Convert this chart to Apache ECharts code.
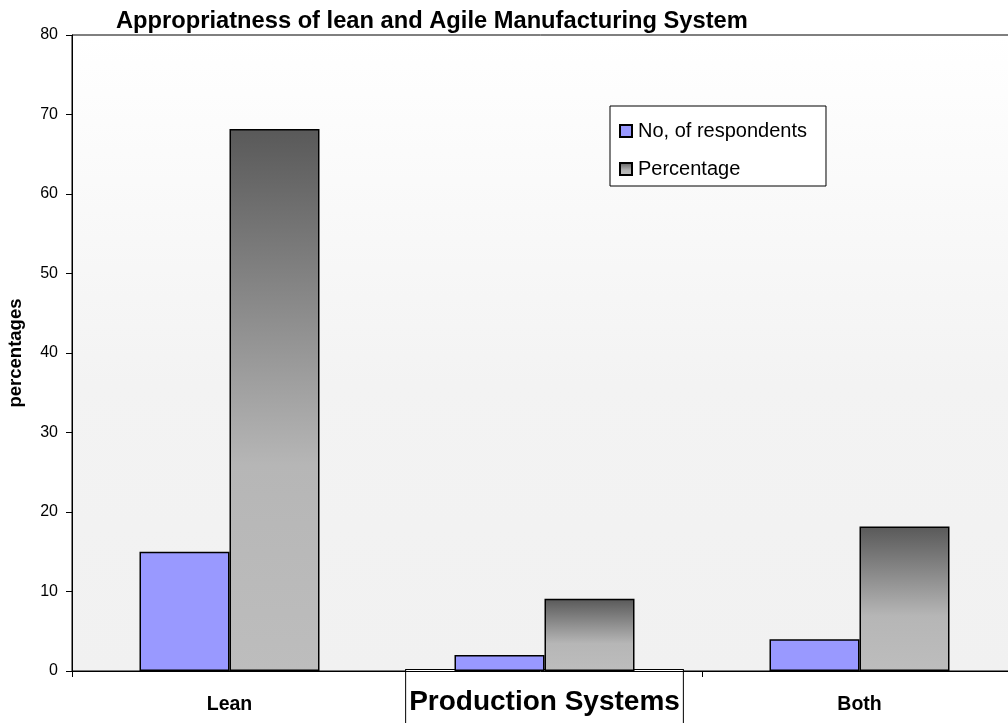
<!DOCTYPE html>
<html>
<head>
<meta charset="utf-8">
<title>Appropriatness of lean and Agile Manufacturing System</title>
<script src="https://cdn.jsdelivr.net/npm/echarts@6/dist/echarts.min.js"></script>
<style>
  html, body { margin: 0; padding: 0; background: #ffffff; }
  #chart { width: 1008px; height: 723px; }
</style>
</head>
<body>
<div id="chart"></div>
<script>
// Survey results: preferred production system
const categories = ['Lean', 'Agile', 'Both'];
const respondents = [15, 2, 4];
const percentages = [68.18, 9.09, 18.18];
const yTicks = { min: 0, max: 80, interval: 10 };

const FONT = '"Liberation Sans", Arial, Helvetica, sans-serif';

const grayFill = {
  type: 'linear', x: 0, y: 0, x2: 0, y2: 1,
  colorStops: [
    { offset: 0, color: '#595959' },
    { offset: 0.62, color: '#b6b6b6' },
    { offset: 1, color: '#bdbdbd' }
  ]
};

const chart = echarts.init(document.getElementById('chart'), null, { renderer: 'canvas' });

chart.setOption({
  animation: false,
  backgroundColor: '#ffffff',
  title: {
    text: 'Appropriatness of lean and Agile Manufacturing System',
    left: 111,
    top: 4,
    textStyle: { fontFamily: FONT, fontSize: 23.7, fontWeight: 'bold', color: '#000' }
  },
  grid: {
    left: 72, top: 35, right: -9, bottom: 52,
    containLabel: false,
    outerBoundsMode: 'none',
    show: true,
    borderColor: '#000',
    borderWidth: 1,
    backgroundColor: {
      type: 'linear', x: 0, y: 0, x2: 0, y2: 1,
      colorStops: [
        { offset: 0, color: '#ffffff' },
        { offset: 0.55, color: '#f3f3f3' },
        { offset: 1, color: '#f1f1f1' }
      ]
    }
  },
  legend: {
    orient: 'vertical',
    left: 610,
    top: 106,
    padding: [15, 19, 7, 9],
    itemGap: 18,
    itemWidth: 12,
    itemHeight: 12,
    backgroundColor: '#ffffff',
    borderColor: '#000',
    borderWidth: 1,
    borderRadius: 0,
    textStyle: { fontFamily: FONT, fontSize: 20, color: '#000', padding: [0, 0, 0, 1] },
    data: [
      { name: 'No, of respondents', icon: 'rect' },
      { name: 'Percentage', icon: 'rect' }
    ]
  },
  xAxis: {
    type: 'category',
    data: categories,
    name: 'Production Systems',
    nameLocation: 'middle',
    nameGap: -1,
    nameMoveOverlap: false,
    nameTextStyle: {
      fontFamily: FONT, fontSize: 28, fontWeight: 'bold', color: '#000',
      backgroundColor: '#ffffff',
      borderColor: '#000',
      borderWidth: 1,
      padding: [18, 3, 30, 3]
    },
    axisLine: { lineStyle: { color: '#000', width: 1 } },
    axisTick: { show: true, length: 6, lineStyle: { color: '#000' } },
    axisLabel: {
      margin: 24,
      // the centre category sits under the axis title box
      interval: (index) => index !== 1,
      fontFamily: FONT, fontSize: 19.5, fontWeight: 'bold', color: '#000'
    }
  },
  yAxis: {
    type: 'value',
    min: yTicks.min,
    max: yTicks.max,
    interval: yTicks.interval,
    name: 'percentages',
    nameLocation: 'middle',
    nameGap: 47,
    nameRotate: 90,
    nameTextStyle: { fontFamily: FONT, fontSize: 18.5, fontWeight: 'bold', color: '#000' },
    axisLine: { show: true, lineStyle: { color: '#000', width: 1 } },
    axisTick: { show: true, length: 6, lineStyle: { color: '#000' } },
    axisLabel: { margin: 14, fontFamily: FONT, fontSize: 16, color: '#000' },
    splitLine: { show: false }
  },
  series: [
    {
      name: 'No, of respondents',
      type: 'bar',
      data: respondents,
      barWidth: 90,
      barGap: '0%',
      itemStyle: { color: '#9999ff', borderColor: '#000', borderWidth: 1.5 }
    },
    {
      name: 'Percentage',
      type: 'bar',
      data: percentages,
      barWidth: 90,
      barGap: '0%',
      itemStyle: { color: grayFill, borderColor: '#000', borderWidth: 1.5 }
    }
  ]
});
</script>
</body>
</html>
